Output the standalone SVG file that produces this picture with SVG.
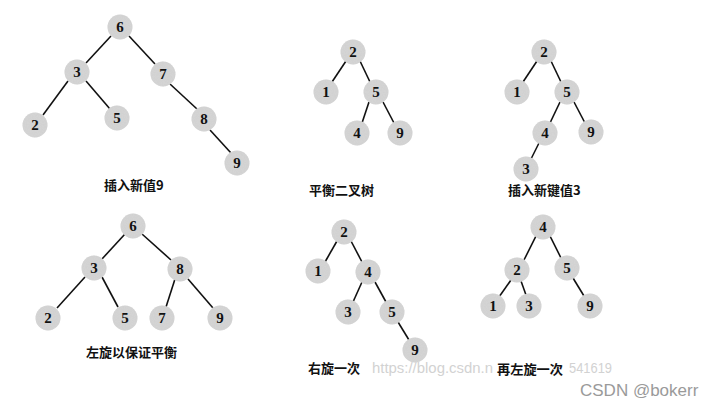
<svg xmlns="http://www.w3.org/2000/svg" width="727" height="408" viewBox="0 0 727 408">
<defs>
<filter id="grain" x="-20%" y="-20%" width="140%" height="140%">
<feTurbulence type="fractalNoise" baseFrequency="0.9" numOctaves="2" seed="3" result="n"/>
<feColorMatrix in="n" type="matrix" values="0 0 0 0 0.6  0 0 0 0 0.6  0 0 0 0 0.6  0 0 0 0.55 0" result="g"/>
<feComposite in="g" in2="SourceGraphic" operator="in" result="gc"/>
<feMerge><feMergeNode in="SourceGraphic"/><feMergeNode in="gc"/></feMerge>
</filter>
</defs>
<style>
.n circle{fill:#d6d6d6;filter:url(#grain)}
.n text{font-family:"Liberation Serif",serif;font-weight:bold;font-size:15px;fill:#111;text-anchor:middle;dominant-baseline:central}
.e line{stroke:#111;stroke-width:1.6}
.lbl{font-family:"Noto Sans CJK SC",sans-serif;font-weight:bold;font-size:13px;fill:#111}
.wm{font-family:"Liberation Sans",sans-serif;font-size:14px;fill:#d2d2d2}
</style>
<rect width="727" height="408" fill="#fff"/>
<text class="wm" x="372" y="373" textLength="121" lengthAdjust="spacingAndGlyphs">https://blog.csdn.n</text>
<text class="wm" x="569" y="373" textLength="43" lengthAdjust="spacingAndGlyphs">541619</text>
<text x="580" y="396" style="font-family:'Liberation Sans',sans-serif;font-size:17px;fill:#9a9a9a">CSDN @bokerr</text>

<g class="e" id="connectors">
<!-- tree 1 -->
<line x1="111" y1="36" x2="86" y2="63"/>
<line x1="129" y1="36" x2="155" y2="64"/>
<line x1="68" y1="81" x2="43" y2="115"/>
<line x1="86" y1="81" x2="110" y2="109"/>
<line x1="170" y1="84" x2="197" y2="109"/>
<line x1="210" y1="130" x2="231" y2="153"/>
<!-- tree 2 -->
<line x1="346" y1="61" x2="332" y2="82"/>
<line x1="360" y1="61" x2="370" y2="82"/>
<line x1="369" y1="102" x2="362" y2="123"/>
<line x1="383" y1="102" x2="394" y2="123"/>
<!-- tree 3 -->
<line x1="537" y1="61" x2="523" y2="82"/>
<line x1="551" y1="61" x2="561" y2="82"/>
<line x1="560" y1="102" x2="550" y2="123"/>
<line x1="574" y1="102" x2="585" y2="123"/>
<line x1="539" y1="143" x2="531" y2="159"/>
<!-- tree 4 -->
<line x1="125" y1="234" x2="102" y2="259"/>
<line x1="142" y1="234" x2="171" y2="260"/>
<line x1="85" y1="277" x2="57" y2="308"/>
<line x1="102" y1="277" x2="118" y2="307"/>
<line x1="175" y1="279" x2="166" y2="307"/>
<line x1="188" y1="279" x2="213" y2="308"/>
<!-- tree 5 -->
<line x1="337" y1="241" x2="325" y2="262"/>
<line x1="351" y1="241" x2="362" y2="262"/>
<line x1="362" y1="282" x2="353" y2="302"/>
<line x1="375" y1="282" x2="386" y2="302"/>
<line x1="398" y1="322" x2="409" y2="340"/>
<!-- tree 6 -->
<line x1="536" y1="236" x2="524" y2="260"/>
<line x1="550" y1="236" x2="561" y2="258"/>
<line x1="511" y1="280" x2="499" y2="297"/>
<line x1="521" y1="281" x2="526" y2="295"/>
<line x1="573" y1="278" x2="584" y2="296"/>
</g>

<!-- tree 1: 插入新值9 -->
<g class="n" id="t1-6"><circle cx="120" cy="27" r="12.5"/><text x="120" y="27">6</text></g>
<g class="n" id="t1-3"><circle cx="77" cy="72" r="12.5"/><text x="77" y="72">3</text></g>
<g class="n" id="t1-7"><circle cx="163" cy="74" r="12.5"/><text x="163" y="74">7</text></g>
<g class="n" id="t1-2"><circle cx="35" cy="125" r="12.5"/><text x="35" y="125">2</text></g>
<g class="n" id="t1-5"><circle cx="117" cy="118" r="12.5"/><text x="117" y="118">5</text></g>
<g class="n" id="t1-8"><circle cx="204" cy="119" r="12.5"/><text x="204" y="119">8</text></g>
<g class="n" id="t1-9"><circle cx="237" cy="163" r="12.5"/><text x="237" y="163">9</text></g>
<text class="lbl" id="lbl1" x="104" y="190">插入新值9</text>

<!-- tree 2: 平衡二叉树 -->
<g class="n" id="t2-2"><circle cx="353" cy="52" r="12.5"/><text x="353" y="52">2</text></g>
<g class="n" id="t2-1"><circle cx="326" cy="92" r="12.5"/><text x="326" y="92">1</text></g>
<g class="n" id="t2-5"><circle cx="376" cy="92" r="12.5"/><text x="376" y="92">5</text></g>
<g class="n" id="t2-4"><circle cx="357" cy="133" r="12.5"/><text x="357" y="133">4</text></g>
<g class="n" id="t2-9"><circle cx="400" cy="133" r="12.5"/><text x="400" y="133">9</text></g>
<text class="lbl" id="lbl2" x="309" y="195">平衡二叉树</text>

<!-- tree 3: 插入新键值3 -->
<g class="n" id="t3-2"><circle cx="544" cy="52" r="12.5"/><text x="544" y="52">2</text></g>
<g class="n" id="t3-1"><circle cx="517" cy="92" r="12.5"/><text x="517" y="92">1</text></g>
<g class="n" id="t3-5"><circle cx="567" cy="92" r="12.5"/><text x="567" y="92">5</text></g>
<g class="n" id="t3-4"><circle cx="545" cy="133" r="12.5"/><text x="545" y="133">4</text></g>
<g class="n" id="t3-9"><circle cx="591" cy="132" r="12.5"/><text x="591" y="132">9</text></g>
<g class="n" id="t3-3"><circle cx="526" cy="169" r="12.5"/><text x="526" y="169">3</text></g>
<text class="lbl" id="lbl3" x="508" y="195">插入新键值3</text>

<!-- tree 4: 左旋以保证平衡 -->
<g class="n" id="t4-6"><circle cx="133" cy="226" r="12.5"/><text x="133" y="226">6</text></g>
<g class="n" id="t4-3"><circle cx="94" cy="268" r="12.5"/><text x="94" y="268">3</text></g>
<g class="n" id="t4-8"><circle cx="180" cy="269" r="12.5"/><text x="180" y="269">8</text></g>
<g class="n" id="t4-2"><circle cx="48" cy="318" r="12.5"/><text x="48" y="318">2</text></g>
<g class="n" id="t4-5"><circle cx="125" cy="318" r="12.5"/><text x="125" y="318">5</text></g>
<g class="n" id="t4-7"><circle cx="162" cy="318" r="12.5"/><text x="162" y="318">7</text></g>
<g class="n" id="t4-9"><circle cx="220" cy="318" r="12.5"/><text x="220" y="318">9</text></g>
<text class="lbl" id="lbl4" x="86" y="357">左旋以保证平衡</text>

<!-- tree 5: 右旋一次 -->
<g class="n" id="t5-2"><circle cx="344" cy="232" r="12.5"/><text x="344" y="232">2</text></g>
<g class="n" id="t5-1"><circle cx="318" cy="271" r="12.5"/><text x="318" y="271">1</text></g>
<g class="n" id="t5-4"><circle cx="368" cy="272" r="12.5"/><text x="368" y="272">4</text></g>
<g class="n" id="t5-3"><circle cx="348" cy="312" r="12.5"/><text x="348" y="312">3</text></g>
<g class="n" id="t5-5"><circle cx="392" cy="312" r="12.5"/><text x="392" y="312">5</text></g>
<g class="n" id="t5-9"><circle cx="415" cy="350" r="12.5"/><text x="415" y="350">9</text></g>
<text class="lbl" id="lbl5" x="308" y="373">右旋一次</text>

<!-- tree 6: 再左旋一次 -->
<g class="n" id="t6-4"><circle cx="543" cy="227" r="12.5"/><text x="543" y="227">4</text></g>
<g class="n" id="t6-2"><circle cx="517" cy="270" r="12.5"/><text x="517" y="270">2</text></g>
<g class="n" id="t6-5"><circle cx="567" cy="268" r="12.5"/><text x="567" y="268">5</text></g>
<g class="n" id="t6-1"><circle cx="493" cy="306" r="12.5"/><text x="493" y="306">1</text></g>
<g class="n" id="t6-3"><circle cx="529" cy="306" r="12.5"/><text x="529" y="306">3</text></g>
<g class="n" id="t6-9"><circle cx="590" cy="306" r="12.5"/><text x="590" y="306">9</text></g>
<text class="lbl" id="lbl6" x="497" y="374" textLength="66" lengthAdjust="spacingAndGlyphs">再左旋一次</text>
</svg>
